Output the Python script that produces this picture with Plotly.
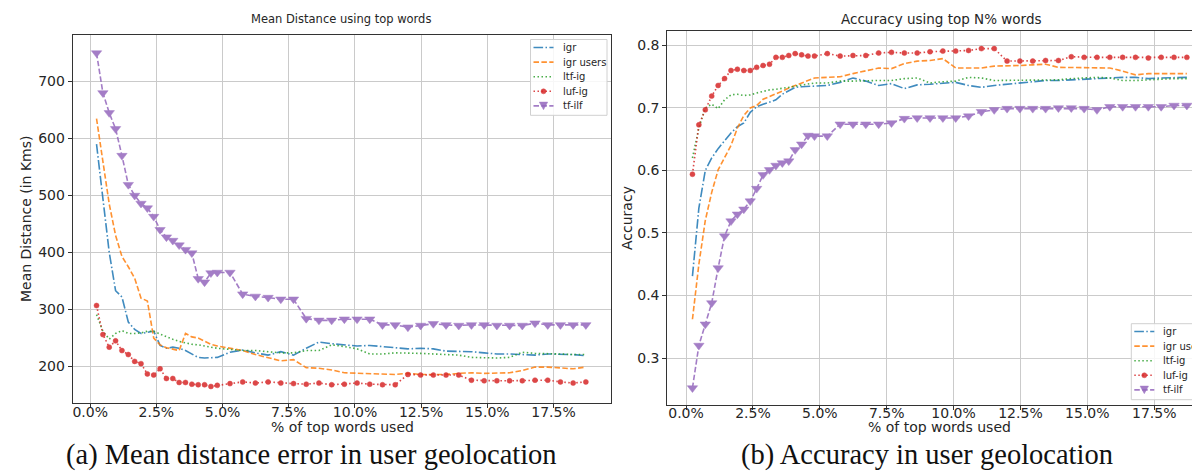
import plotly.graph_objects as go

# ---------------- data ----------------
X_PCT = [0.24, 0.48, 0.72, 0.96, 1.2, 1.44, 1.68, 1.92, 2.16, 2.4,
         2.64, 2.88, 3.12, 3.36, 3.6, 3.84, 4.08, 4.32, 4.56, 4.8,
         5.28, 5.76, 6.24, 6.72, 7.2, 7.68, 8.16, 8.64, 9.12, 9.6,
         10.08, 10.56, 11.04, 11.52, 12.0, 12.48, 12.96, 13.44, 13.92, 14.4,
         14.88, 15.36, 15.84, 16.32, 16.8, 17.28, 17.76, 18.24, 18.72]

SERIES = ["igr", "igr users", "ltf-ig", "luf-ig", "tf-ilf"]

# (a) mean distance (km)
DIST_IGR = [590, 500, 400, 333, 322, 278, 265, 258, 260, 262,
            237, 232, 234, 232, 228, 222, 216, 215, 215, 216,
            225, 229, 224, 220, 226, 220, 232, 243, 240, 238,
            236, 237, 235, 233, 231, 232, 231, 227, 227, 226,
            224, 222, 222, 221, 220, 222, 222, 221, 219]
DIST_IGR_USERS = [635, 560, 485, 430, 393, 375, 355, 320, 315, 250,
                  238, 233, 230, 228, 258, 252, 250, 244, 239, 236,
                  232, 228, 221, 215, 210, 212, 198, 197, 194, 189,
                  188, 188, 187, 186, 188, 186, 186, 186, 188, 189,
                  188, 188, 189, 193, 199, 199, 197, 196, 199]
DIST_LTF_IG = [291, 262, 248, 258, 263, 258, 258, 259, 262, 262,
               257, 252, 248, 244, 241, 239, 238, 236, 234, 232,
               230, 228, 228, 226, 224, 224, 228, 228, 238, 235,
               231, 222, 222, 224, 224, 223, 222, 221, 220, 216,
               215, 215, 216, 225, 223, 223, 222, 221, 221]
DIST_LUF_IG = [307, 256, 234, 245, 228, 221, 209, 205, 187, 185,
               196, 179, 179, 172, 172, 169, 168, 168, 165, 167,
               170, 173, 171, 173, 171, 170, 169, 171, 168, 169,
               171, 169, 168, 168, 186, 185, 185, 185, 185, 176,
               175, 175, 175, 175, 176, 176, 173, 171, 173]
DIST_TF_ILF = [750, 680, 645, 617, 570, 519, 500, 486, 478, 463,
               440, 427, 421, 413, 405, 399, 354, 348, 364, 365,
               365, 327, 323, 321, 318, 318, 284, 281, 281, 283,
               283, 283, 273, 273, 269, 272, 275, 273, 272, 273,
               273, 272, 272, 272, 276, 273, 273, 273, 273]

# (b) accuracy
ACC_IGR = [0.431, 0.540, 0.600, 0.620, 0.635, 0.647, 0.660, 0.670, 0.676, 0.693,
           0.702, 0.706, 0.709, 0.713, 0.722, 0.728, 0.733, 0.734, 0.735, 0.735,
           0.736, 0.741, 0.748, 0.743, 0.736, 0.739, 0.731, 0.737, 0.738, 0.740,
           0.741, 0.736, 0.733, 0.736, 0.738, 0.739, 0.742, 0.744, 0.744, 0.745,
           0.747, 0.748, 0.749, 0.749, 0.749, 0.747, 0.748, 0.748, 0.749]
ACC_IGR_USERS = [0.362, 0.450, 0.520, 0.565, 0.601, 0.620, 0.640, 0.668, 0.688, 0.700,
                 0.704, 0.714, 0.718, 0.722, 0.727, 0.732, 0.736, 0.740, 0.744, 0.748,
                 0.749, 0.750, 0.755, 0.760, 0.764, 0.763, 0.771, 0.775, 0.776, 0.779,
                 0.764, 0.764, 0.764, 0.767, 0.767, 0.768, 0.769, 0.770, 0.765, 0.765,
                 0.765, 0.765, 0.764, 0.759, 0.753, 0.755, 0.755, 0.755, 0.755]
ACC_LTF_IG = [0.620, 0.668, 0.700, 0.706, 0.699, 0.713, 0.721, 0.722, 0.720, 0.721,
              0.724, 0.727, 0.729, 0.730, 0.731, 0.733, 0.735, 0.737, 0.738, 0.740,
              0.740, 0.743, 0.743, 0.744, 0.744, 0.744, 0.747, 0.748, 0.740, 0.742,
              0.743, 0.749, 0.748, 0.744, 0.744, 0.744, 0.744, 0.745, 0.745, 0.747,
              0.748, 0.749, 0.748, 0.744, 0.744, 0.745, 0.747, 0.747, 0.747]
ACC_LUF_IG = [0.594, 0.673, 0.697, 0.719, 0.736, 0.747, 0.760, 0.762, 0.760, 0.760,
              0.765, 0.768, 0.770, 0.781, 0.781, 0.784, 0.787, 0.785, 0.783, 0.783,
              0.787, 0.783, 0.784, 0.784, 0.788, 0.789, 0.788, 0.788, 0.790, 0.791,
              0.791, 0.792, 0.795, 0.795, 0.775, 0.775, 0.775, 0.776, 0.776, 0.782,
              0.781, 0.781, 0.781, 0.781, 0.781, 0.780, 0.781, 0.781, 0.781]
ACC_TF_ILF = [0.252, 0.320, 0.354, 0.388, 0.444, 0.495, 0.519, 0.530, 0.538, 0.551,
              0.571, 0.593, 0.601, 0.608, 0.612, 0.615, 0.633, 0.642, 0.656, 0.655,
              0.655, 0.674, 0.674, 0.674, 0.674, 0.676, 0.683, 0.684, 0.684, 0.684,
              0.684, 0.687, 0.694, 0.697, 0.699, 0.699, 0.699, 0.699, 0.700, 0.700,
              0.699, 0.697, 0.702, 0.702, 0.702, 0.702, 0.702, 0.704, 0.704]

X_TICKS = [0.0, 2.5, 5.0, 7.5, 10.0, 12.5, 15.0, 17.5]
X_TICK_TEXT = ["0.0%", "2.5%", "5.0%", "7.5%", "10.0%", "12.5%", "15.0%", "17.5%"]
DIST_TICKS = [200, 300, 400, 500, 600, 700]
ACC_TICKS = [0.3, 0.4, 0.5, 0.6, 0.7, 0.8]
ACC_TICK_TEXT = ["0.3", "0.4", "0.5", "0.6", "0.7", "0.8"]

# ---------------- styles ----------------
W, H = 1200, 474
STYLE = {
    "igr": dict(color="#1f77b4", dash="9.6px,2.4px,1.5px,2.4px", marker=None),
    "igr users": dict(color="#ff7f0e", dash="5.5px,2.4px", marker=None),
    "ltf-ig": dict(color="#2ca02c", dash="1.5px,2.5px", marker=None),
    "luf-ig": dict(color="#d62728", dash="1.5px,2.5px", marker=dict(symbol="circle", size=5)),
    "tf-ilf": dict(color="#9467bd", dash="5.5px,2.4px", marker=dict(symbol="triangle-down", size=9)),
}
FONT = "DejaVu Sans"
TXT = "#262626"

fig = go.Figure()

def add_series(values, name, xa, ya):
    st = STYLE[name]
    mode = "lines+markers" if st["marker"] else "lines"
    kw = dict(x=X_PCT, y=values, name=name, mode=mode, xaxis=xa, yaxis=ya,
              opacity=0.85, showlegend=False,
              line=dict(color=st["color"], width=1.6, dash=st["dash"]))
    if st["marker"]:
        kw["marker"] = dict(color=st["color"], size=st["marker"]["size"],
                            symbol=st["marker"]["symbol"],
                            line=dict(width=0.5, color=st["color"]))
    fig.add_trace(go.Scatter(**kw))

for name, vals in zip(SERIES, [DIST_IGR, DIST_IGR_USERS, DIST_LTF_IG, DIST_LUF_IG, DIST_TF_ILF]):
    add_series(vals, name, "x", "y")
for name, vals in zip(SERIES, [ACC_IGR, ACC_IGR_USERS, ACC_LTF_IG, ACC_LUF_IG, ACC_TF_ILF]):
    add_series(vals, name, "x2", "y2")

def px_x(p):
    return p / W

def px_y(p):
    return 1 - p / H

axis_common = dict(showgrid=True, gridcolor="#cbcbcb", gridwidth=1, zeroline=False,
                   ticks="outside", ticklen=4, tickcolor="#333", linecolor="#333",
                   linewidth=1, showline=True,
                   tickfont=dict(family=FONT, size=14, color=TXT))

fig.update_layout(
    width=W, height=H, margin=dict(l=0, r=0, t=0, b=0),
    paper_bgcolor="white", plot_bgcolor="white",
    font=dict(family=FONT, color=TXT),
    showlegend=False,
    xaxis=dict(domain=[px_x(64.7), px_x(603)], range=[-0.66, 19.67], anchor="y",
               tickvals=X_TICKS, ticktext=X_TICK_TEXT, mirror=True,
               ticklabelstandoff=-8, **axis_common),
    yaxis=dict(domain=[px_y(395), px_y(27)], range=[136, 781.6], anchor="x",
               tickvals=DIST_TICKS, mirror=True, **axis_common),
    xaxis2=dict(domain=[px_x(659.3), 1.0], range=[-0.70, 19.51], anchor="y2",
                tickvals=X_TICKS, ticktext=X_TICK_TEXT, mirror=True,
                ticklabelstandoff=-8, **axis_common),
    yaxis2=dict(domain=[px_y(396.5), px_y(23.3)], range=[0.2256, 0.8227], anchor="x2",
                tickvals=ACC_TICKS, ticktext=ACC_TICK_TEXT, mirror=False, **axis_common),
)

# ---------- hand-drawn legends (matplotlib-like compact layout) ----------
def draw_legend(left, top, bottom, right, first_y, step):
    fig.add_shape(type="rect", xref="paper", yref="paper", layer="above",
                  x0=px_x(left), x1=px_x(right), y0=px_y(bottom), y1=px_y(top),
                  line=dict(color="#d0d0d0", width=1), fillcolor="rgba(255,255,255,0.85)")
    for i, name in enumerate(SERIES):
        st = STYLE[name]
        yc = first_y + i * step
        x0, x1 = left + 3, left + 23
        fig.add_shape(type="line", xref="paper", yref="paper", layer="above",
                      x0=px_x(x0), x1=px_x(x1), y0=px_y(yc), y1=px_y(yc),
                      line=dict(color=st["color"], width=1.6, dash=st["dash"]), opacity=0.85)
        xm = (x0 + x1) / 2
        if name == "luf-ig":
            r = 2.5
            fig.add_shape(type="circle", xref="paper", yref="paper", layer="above",
                          x0=px_x(xm - r), x1=px_x(xm + r), y0=px_y(yc + r), y1=px_y(yc - r),
                          fillcolor=st["color"], line=dict(color=st["color"], width=0.5),
                          opacity=0.85)
        elif name == "tf-ilf":
            hw, hh = 4.2, 3.8
            path = "M {a},{b} L {c},{d} L {e},{f} Z".format(
                a=px_x(xm - hw), b=px_y(yc - hh), c=px_x(xm + hw), d=px_y(yc - hh),
                e=px_x(xm), f=px_y(yc + hh))
            fig.add_shape(type="path", xref="paper", yref="paper", layer="above", path=path,
                          fillcolor=st["color"], line=dict(color=st["color"], width=0.5),
                          opacity=0.85)
        fig.add_annotation(text=name, x=px_x(left + 30), y=px_y(yc), xref="paper", yref="paper",
                           showarrow=False, xanchor="left", yanchor="middle",
                           font=dict(family=FONT, size=10, color=TXT))

draw_legend(522.5, 31.5, 107.3, 599, 39.5, 14.6)
draw_legend(1123.3, 315.7, 391.7, 1212, 323.5, 14.6)

# ---------- titles, axis labels, captions ----------
def text(t, xc, yc, size, family=FONT, angle=0, color=TXT):
    fig.add_annotation(text=t, x=px_x(xc), y=px_y(yc), xref="paper", yref="paper",
                       showarrow=False, xanchor="center", yanchor="middle", textangle=angle,
                       font=dict(family=family, size=size, color=color))

text("Mean Distance using top words", 333, 11, 11.5)
text("Accuracy using top N% words", 933, 10.5, 13.5)
text("% of top words used", 334, 419, 14)
text("% of top words used", 931, 419, 14)
text("Mean Distance (in Kms)", 18, 211, 14, angle=-90)
text("Accuracy", 619, 210, 14, angle=-90)
text("(a) Mean distance error in user geolocation", 303, 447, 28.5,
     family="Liberation Serif", color="#111")
text("(b) Accuracy in user geolocation", 919, 447, 28.5,
     family="Liberation Serif", color="#111")

fig.write_html("out.html")
